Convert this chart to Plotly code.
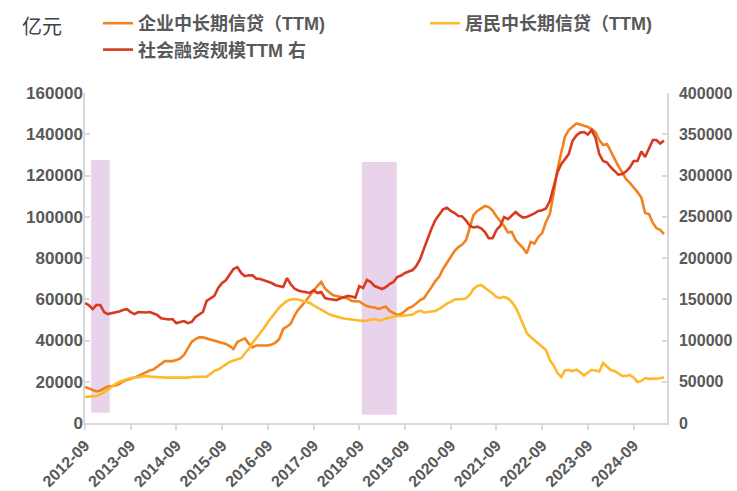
import pandas as pd
import plotly.graph_objects as go

months = pd.date_range("2012-09-01", periods=153, freq="MS")

corp_loans = [
    17500, 16700, 16000, 15300, 15800, 16700, 17700, 17900, 18200, 18900, 20100, 20800,
    21300, 22000, 22800, 23800, 24500, 25500, 25900, 27200, 28800, 30000, 30000, 30000,
    30500, 31300, 33000, 36400, 39300, 40700, 41500, 41500, 41000, 40500, 40200, 39500,
    39000, 38300, 37300, 35900, 39300, 40000, 41000, 38500, 36600, 37600, 37600, 37300,
    37600, 38000, 39000, 40700, 45600, 46800, 48000, 51900, 55000, 57000, 59400, 61600,
    64000, 66400, 68400, 65200, 63500, 62000, 61600, 61300, 61000, 60400, 59200, 59200,
    58900, 57700, 56700, 56200, 56000, 55300, 55800, 56500, 54300, 53300, 52400, 52800,
    54300, 55800, 56500, 58000, 59600, 60600, 63000, 66000, 68800, 71000, 74700, 77600,
    80500, 83400, 85300, 86500, 88700, 94500, 100800, 102800, 104200, 105200, 104700, 103000,
    100100, 98000, 95500, 92400, 92600, 88700, 87000, 84800, 82200, 87800, 87000, 90200,
    92100, 97500, 101300, 111000, 123000, 131400, 138700, 142000, 143500, 145200, 144700, 144200,
    143500, 142500, 141000, 137200, 134800, 135300, 131900, 127800, 124600, 121500, 118300, 116400,
    114400, 112000, 109300, 101800, 101300, 97000, 94500, 93600, 91600,
]

household_loans = [
    12600, 12700, 12800, 13100, 13800, 14800, 16200, 17700, 18900, 19900, 20600, 21300,
    21800, 22000, 22300, 22500, 22800, 22500, 22500, 22300, 22200, 22000, 22000, 21800,
    21700, 21700, 21900, 22000, 22300, 22300, 22300, 22300, 22500, 23800, 25200, 25900,
    27200, 28400, 29600, 30300, 31000, 31400, 33700, 35900, 38800, 41200, 43200, 46100,
    49000, 51400, 53800, 56000, 57700, 59200, 59900, 60100, 59900, 59400, 58900, 58200,
    57000, 56000, 54800, 53600, 52800, 52100, 51600, 51200, 50700, 50400, 50300, 49900,
    49700, 49500, 49700, 49900, 50400, 49700, 49900, 50700, 51200, 51600, 51900, 51900,
    52100, 52400, 52600, 53800, 54500, 53600, 53800, 54100, 54300, 55300, 56700, 57900,
    58700, 59900, 60000, 60000, 60400, 62300, 65000, 66400, 66900, 65600, 64000, 62800,
    61100, 60600, 61100, 60400, 58700, 56000, 52400, 47800, 43600, 41700, 40200, 38500,
    37300, 35400, 30500, 27900, 24200, 22300, 25500, 25700, 25200, 25900, 24700, 23000,
    24500, 25700, 25500, 25000, 29100, 27200, 25700, 25200, 24200, 22800, 22800, 23300,
    22000, 19900, 20400, 21800, 21400, 21300, 21500, 21800, 22000,
]

tsf_ttm = [
    145400, 143000, 138000, 143000, 143000, 134500, 132000, 133000, 134000, 135000, 137000, 138000,
    134500, 132000, 134500, 134000, 134000, 134500, 133000, 131000, 127000, 126000, 125500, 126000,
    121000, 122500, 123600, 121000, 122500, 128500, 131000, 134500, 148000, 151500, 154000, 163600,
    169700, 173000, 180600, 186600, 189000, 181800, 178000, 179000, 179000, 175000, 174500, 173000,
    171500, 169700, 167000, 166000, 164800, 175700, 168500, 163000, 160600, 159400, 158800, 157600,
    161000, 157600, 158800, 151500, 150300, 149700, 149000, 151000, 152700, 154000, 153300, 152000,
    166000, 163600, 173300, 171000, 166000, 164000, 162400, 164800, 168500, 171000, 177000, 178800,
    181800, 183600, 185400, 190300, 198800, 212000, 224000, 236000, 246000, 253000, 259000, 261000,
    257000, 254500, 251000, 250400, 245400, 238800, 237000, 238000, 236000, 231500, 224000, 224000,
    234000, 238800, 249700, 247000, 252000, 255700, 252000, 249000, 249700, 251500, 254000, 257000,
    258000, 260000, 269000, 286000, 304000, 314000, 320000, 326000, 341800, 348500, 352000, 352700,
    349700, 355000, 345400, 326000, 317500, 315700, 310000, 305400, 301000, 301800, 304800, 309700,
    317500, 317500, 329000, 322400, 333000, 343000, 343000, 338800, 342400,
]

names = ["企业中长期信贷（TTM)", "居民中长期信贷（TTM)", "社会融资规模TTM 右"]
colors = ["#F2821E", "#FDB92A", "#D83A1F"]

shade_periods = [("2012-10-20", "2013-03-17", 5000, 127500),
                 ("2018-09-21", "2019-06-27", 4000, 126500)]

FONT = "Liberation Sans, Arial, Noto Sans CJK SC, sans-serif"
GREY = "#595959"
AXIS = "#D9D9D9"

fig = go.Figure()
fig.add_trace(go.Scatter(x=months, y=corp_loans, name=names[0], mode="lines",
                         line=dict(color=colors[0], width=2.6), legend="legend",
                         legendgroup="g1"))
fig.add_trace(go.Scatter(x=months, y=household_loans, name=names[1], mode="lines",
                         line=dict(color=colors[1], width=2.6), legend="legend2",
                         legendgroup="g2"))
fig.add_trace(go.Scatter(x=months, y=tsf_ttm, name=names[2], mode="lines", yaxis="y2",
                         line=dict(color=colors[2], width=2.6), legend="legend",
                         legendgroup="g3"))

for x0, x1, y0, y1 in shade_periods:
    fig.add_shape(type="rect", xref="x", yref="y", x0=x0, x1=x1, y0=y0, y1=y1,
                  fillcolor="#E8D3EA", line=dict(width=0), layer="below")

legend_font = dict(family=FONT, size=18, color=GREY, weight="bold")

# plot area: x 85..667 px, y 93..423 px
fig.update_layout(
    width=737, height=491,
    margin=dict(l=85, r=70, t=93, b=68, autoexpand=False),
    plot_bgcolor="white", paper_bgcolor="white",
    font=dict(family=FONT, color=GREY),
    legend=dict(orientation="v", x=(98 - 85) / 582, y=(423 - 5) / 330,
                xanchor="left", yanchor="top",
                font=legend_font, bgcolor="rgba(0,0,0,0)", itemwidth=30,
                tracegroupgap=0, itemclick=False),
    legend2=dict(orientation="v", x=(425 - 85) / 582, y=(423 - 5) / 330,
                 xanchor="left", yanchor="top",
                 font=legend_font, bgcolor="rgba(0,0,0,0)", itemwidth=30,
                 itemclick=False),
    xaxis=dict(
        type="date",
        range=["2012-09-01", "2025-05-25"],
        tick0="2012-09-01", dtick="M12", tickformat="%Y-%m",
        tickangle=-45, automargin=False,
        showline=True, linecolor=AXIS, linewidth=1.5,
        ticks="outside", ticklen=5, tickcolor=AXIS, tickwidth=1.5,
        showgrid=False, zeroline=False,
        tickfont=dict(family=FONT, size=16, color=GREY, weight="bold"),
    ),
    yaxis=dict(
        range=[0, 160000], dtick=20000, tickformat="d", automargin=False,
        showline=True, linecolor=AXIS, linewidth=1.5,
        ticks="inside", ticklen=5, tickcolor=AXIS, tickwidth=1.5,
        showgrid=False, zeroline=False,
        ticklabelstandoff=-3,
        tickfont=dict(family=FONT, size=17, color=GREY, weight="bold"),
    ),
    yaxis2=dict(
        range=[0, 400000], dtick=50000, tickformat="d", automargin=False,
        overlaying="y", side="right",
        showline=True, linecolor=AXIS, linewidth=1.5,
        ticks="inside", ticklen=5, tickcolor=AXIS, tickwidth=1.5,
        showgrid=False, zeroline=False,
        ticklabelstandoff=7,
        tickfont=dict(family=FONT, size=16, color=GREY, weight="bold"),
    ),
    annotations=[dict(text="亿元", xref="paper", yref="paper",
                      x=(42 - 85) / 582, y=(423 - 25) / 330,
                      xanchor="center", yanchor="middle", showarrow=False,
                      font=dict(family="Noto Sans CJK SC, sans-serif", size=20, color="#404040"))],
)

# remove the default 8px page margin so the 737x491 figure fills the window
fig.write_html("out.html", config={"displayModeBar": False},
               post_script="document.body.style.margin='0';")
